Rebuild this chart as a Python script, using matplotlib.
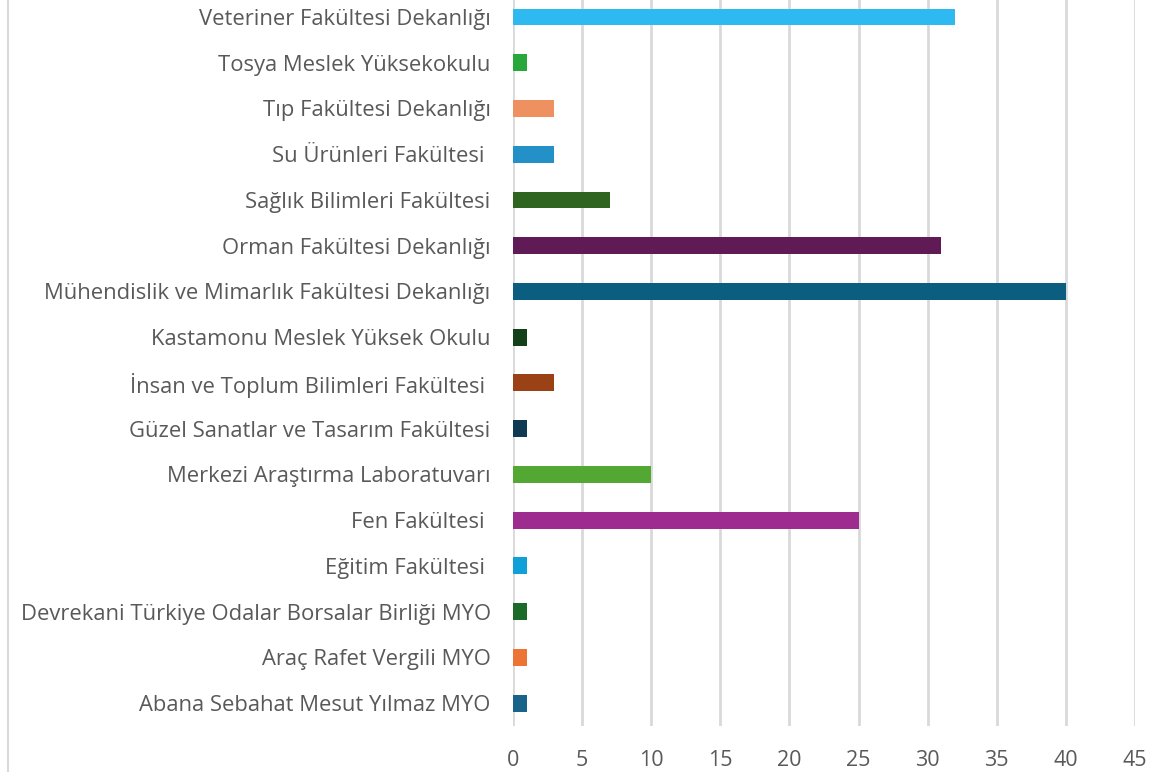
import matplotlib.pyplot as plt
import matplotlib.lines as mlines

# ── Data (bottom → top) ─────────────────────────────────────────────────────
UNITS = [
    "Abana Sebahat Mesut Yılmaz MYO",
    "Araç Rafet Vergili MYO",
    "Devrekani Türkiye Odalar Borsalar Birliği MYO",
    "Eğitim Fakültesi ",
    "Fen Fakültesi ",
    "Merkezi Araştırma Laboratuvarı",
    "Güzel Sanatlar ve Tasarım Fakültesi",
    "İnsan ve Toplum Bilimleri Fakültesi ",
    "Kastamonu Meslek Yüksek Okulu",
    "Mühendislik ve Mimarlık Fakültesi Dekanlığı",
    "Orman Fakültesi Dekanlığı",
    "Sağlık Bilimleri Fakültesi",
    "Su Ürünleri Fakültesi ",
    "Tıp Fakültesi Dekanlığı",
    "Tosya Meslek Yüksekokulu",
    "Veteriner Fakültesi Dekanlığı",
]
COUNTS = [1, 1, 1, 1, 25, 10, 1, 3, 1, 40, 31, 7, 3, 3, 1, 32]
COLORS = [
    "#176389", "#EC7535", "#1B6A2A", "#10A0D8", "#9E2C90", "#52A832",
    "#0E3A53", "#9A4215", "#134019", "#0C5E80", "#601A55", "#2F6320",
    "#2391C8", "#EE905F", "#28A83A", "#2EB9F0",
]
X_TICKS = list(range(0, 50, 5))

plt.rcParams["font.family"] = ["Open Sans", "DejaVu Sans"]

fig = plt.figure(figsize=(11.54, 7.72), dpi=100)
ax = fig.add_axes([0.4445, 0.0596, 0.539, 0.948])

y = range(len(UNITS))
ax.barh(y, COUNTS, height=0.37, color=COLORS, zorder=3)

ax.set_xlim(0, 45)
ax.set_ylim(-0.5, len(UNITS) - 0.5)
ax.set_xticks(X_TICKS)
ax.set_yticks(list(y))
ax.set_yticklabels(UNITS)

ax.grid(axis="x", color="#D9D9D9", linewidth=2, zorder=0)
ax.tick_params(axis="y", length=0, pad=16, labelsize=15.8, labelcolor="#595959")
ax.tick_params(axis="x", length=0, pad=17, labelsize=15.5, labelcolor="#595959")
for s in ax.spines.values():
    s.set_visible(False)

# outer chart border on the left
fig.add_artist(mlines.Line2D([0.0065, 0.0065], [0, 1], color="#D9D9D9",
                             linewidth=1.5, transform=fig.transFigure))

fig.savefig("out.png", dpi=100)
